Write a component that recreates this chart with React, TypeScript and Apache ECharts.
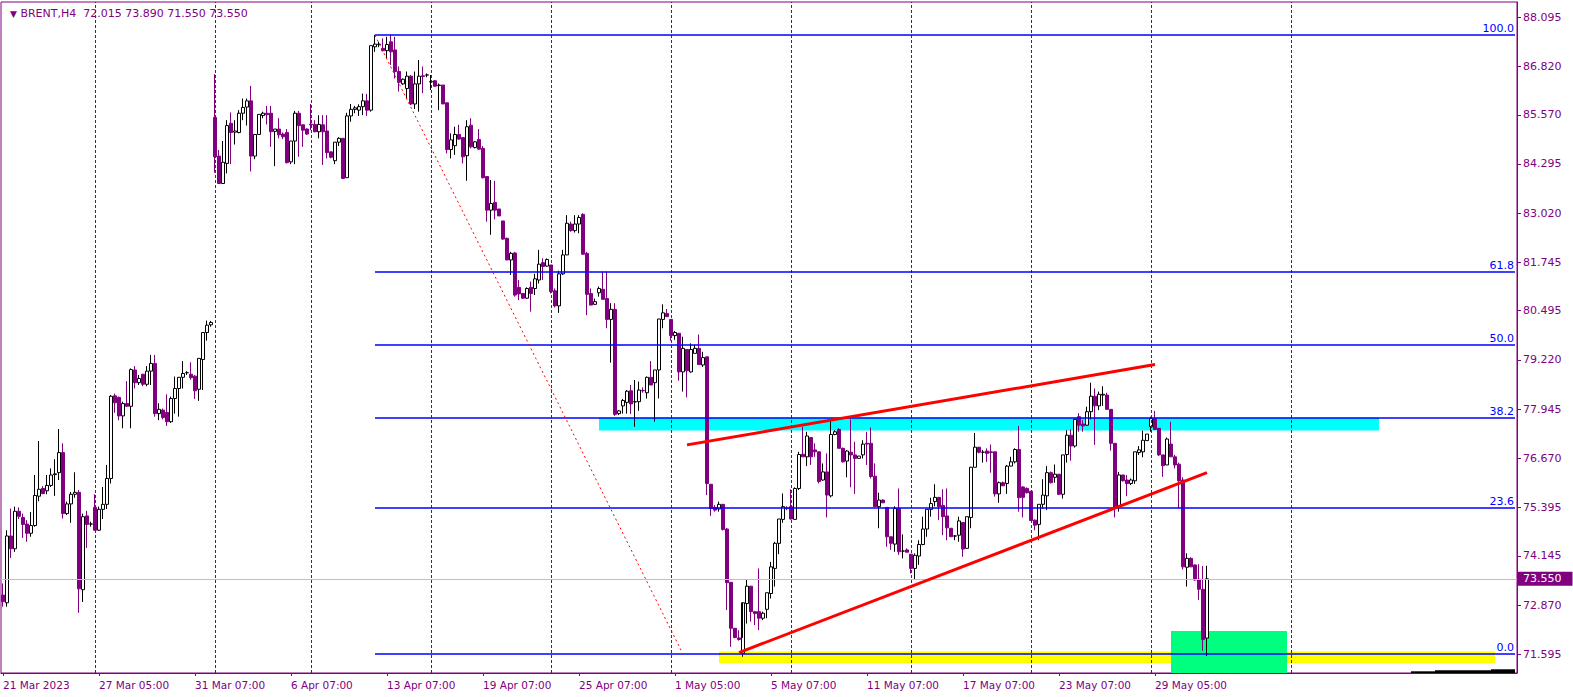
import React, { useEffect, useRef } from 'react';
import * as echarts from 'echarts';

// ---- OHLC data (H4 bars) ----
const open = [
  73.13, 72.93, 74.66, 74.33, 75.30, 75.14, 74.97, 74.73, 74.93, 75.69,
  75.89, 75.83, 75.97, 76.25, 76.30, 76.82, 75.24, 75.49, 75.74, 75.79,
  73.27, 75.18, 74.97, 75.40, 74.81, 75.35, 75.48, 76.15, 78.29, 78.25,
  77.77, 78.09, 78.02, 78.96, 78.63, 78.85, 78.59, 78.93, 79.13, 77.83,
  77.92, 77.86, 77.62, 78.22, 78.48, 78.77, 78.89, 78.85, 78.80, 78.46,
  79.23, 79.93, 80.13, 85.50, 84.50, 83.79, 84.31, 85.35, 85.12, 85.11,
  85.61, 85.77, 85.93, 84.50, 85.06, 85.55, 85.61, 85.61, 85.14, 85.20,
  85.07, 85.11, 84.35, 84.89, 85.61, 85.31, 85.20, 85.33, 85.32, 85.13,
  85.31, 85.15, 84.61, 84.38, 84.86, 84.96, 83.94, 85.54, 85.71, 85.69,
  85.78, 85.93, 85.69, 87.33, 87.39, 87.29, 87.23, 87.46, 87.25, 86.69,
  86.37, 86.25, 86.57, 85.85, 86.37, 86.58, 86.60, 86.42, 86.45, 86.33,
  86.34, 85.88, 84.67, 84.77, 85.06, 84.98, 84.51, 85.30, 84.72, 84.93,
  84.70, 83.97, 83.10, 83.30, 83.13, 82.82, 82.37, 81.81, 81.99, 81.10,
  80.94, 80.82, 81.10, 81.07, 81.29, 81.74, 81.65, 81.68, 81.01, 80.62,
  81.45, 81.94, 82.74, 82.57, 82.74, 82.99, 81.98, 80.94, 80.66, 80.96,
  81.05, 80.81, 80.27, 80.53, 77.83, 78.03, 78.12, 78.42, 78.13, 78.14,
  78.43, 78.37, 78.77, 78.63, 78.96, 80.27, 80.42, 80.27, 79.85, 79.91,
  78.91, 79.49, 78.91, 79.39, 79.52, 79.09, 79.30, 76.00, 75.40, 75.36,
  75.48, 74.84, 73.46, 72.27, 72.02, 71.62, 72.91, 73.36, 72.70, 72.70,
  72.53, 72.76, 73.17, 73.82, 74.47, 75.09, 75.38, 75.42, 75.09, 75.89,
  76.78, 76.71, 77.21, 76.89, 76.84, 76.11, 76.32, 75.70, 77.29, 77.42,
  76.93, 76.60, 76.83, 76.76, 76.67, 76.76, 77.06, 77.06, 76.21, 75.42,
  75.59, 75.40, 74.64, 74.45, 75.37, 74.27, 74.30, 74.19, 73.82, 74.14,
  74.44, 74.84, 75.35, 75.55, 75.66, 75.45, 75.18, 74.86, 74.66, 74.68,
  75.01, 74.34, 75.14, 76.44, 76.96, 76.83, 76.86, 76.84, 76.84, 75.75,
  76.04, 76.02, 76.47, 76.58, 76.90, 75.93, 75.89, 75.82, 75.07, 74.96,
  75.48, 75.70, 76.30, 76.18, 76.26, 75.74, 76.77, 77.27, 76.99, 77.75,
  77.56, 77.53, 77.88, 78.28, 78.03, 78.31, 78.31, 77.94, 77.06, 75.42,
  76.24, 76.11, 76.02, 76.09, 76.82, 76.84, 77.13, 77.49, 77.70, 77.45,
  76.76, 76.50, 77.04, 76.71, 76.52, 76.11, 73.85, 74.08, 73.91, 73.54,
  73.28, 72.015,
];
const high = [
  73.43, 74.81, 75.37, 75.42, 75.40, 75.24, 75.07, 75.28, 76.24, 77.12,
  75.95, 76.24, 76.41, 76.65, 77.43, 77.06, 75.55, 75.80, 76.31, 75.85,
  75.24, 75.31, 75.03, 75.74, 75.42, 75.93, 76.50, 78.31, 78.35, 78.27,
  78.14, 78.67, 79.00, 79.06, 78.83, 78.85, 79.06, 79.35, 79.35, 78.10,
  77.96, 78.33, 78.27, 78.79, 78.77, 79.19, 78.93, 79.16, 78.83, 79.26,
  79.93, 80.24, 80.23, 86.62, 84.66, 84.89, 85.43, 85.63, 85.43, 85.69,
  85.99, 85.99, 86.32, 85.06, 85.58, 85.65, 85.80, 85.80, 85.20, 85.48,
  85.11, 85.20, 84.89, 85.67, 85.67, 85.31, 85.22, 85.85, 85.43, 85.56,
  85.56, 85.56, 84.61, 84.86, 84.99, 84.96, 85.62, 85.85, 85.80, 85.84,
  86.12, 86.11, 87.36, 87.64, 87.46, 87.55, 87.59, 87.64, 87.59, 86.82,
  86.51, 86.69, 86.60, 86.69, 86.99, 86.82, 86.64, 86.60, 86.47, 86.38,
  86.34, 85.88, 85.09, 85.26, 85.31, 84.98, 85.43, 85.48, 84.89, 85.20,
  84.76, 83.97, 83.88, 83.86, 83.13, 82.82, 82.39, 82.02, 82.02, 81.29,
  80.94, 81.10, 81.25, 81.45, 82.07, 81.85, 81.85, 81.68, 81.07, 81.53,
  82.07, 82.97, 82.80, 82.97, 82.97, 83.02, 82.02, 81.07, 80.81, 81.12,
  81.51, 81.51, 80.69, 80.69, 77.92, 78.21, 78.44, 78.57, 78.70, 78.66,
  78.51, 78.79, 79.19, 78.96, 80.28, 80.66, 80.54, 80.27, 79.97, 79.91,
  79.82, 79.49, 79.65, 79.61, 79.88, 79.43, 79.30, 76.00, 75.46, 75.55,
  75.48, 74.87, 73.46, 72.27, 72.22, 72.02, 73.53, 73.36, 72.72, 73.82,
  72.70, 73.19, 73.99, 74.51, 75.10, 75.76, 75.43, 75.87, 75.92, 76.84,
  77.49, 77.36, 77.21, 77.06, 76.84, 76.54, 76.80, 77.65, 77.40, 77.45,
  76.95, 76.89, 77.68, 77.10, 76.73, 77.14, 77.36, 77.47, 76.54, 75.78,
  75.61, 75.40, 74.64, 75.43, 75.89, 74.70, 74.34, 74.19, 74.21, 74.55,
  75.16, 75.35, 75.65, 76.00, 75.66, 75.87, 75.89, 74.86, 74.68, 75.16,
  75.01, 75.16, 76.45, 77.33, 76.96, 76.89, 76.93, 77.03, 76.84, 76.07,
  76.07, 76.50, 76.71, 76.93, 77.51, 75.95, 75.92, 75.82, 75.09, 75.48,
  76.13, 76.47, 76.33, 76.51, 76.26, 76.76, 77.40, 77.42, 77.71, 77.84,
  77.66, 78.01, 78.63, 78.48, 78.40, 78.54, 78.37, 77.94, 77.06, 76.32,
  76.24, 76.24, 76.15, 76.84, 76.99, 77.39, 77.30, 77.75, 77.90, 77.45,
  76.76, 77.21, 77.62, 76.76, 76.56, 76.18, 74.21, 74.11, 73.92, 73.93,
  73.88, 73.89,
];
const low = [
  72.83, 72.83, 74.09, 74.25, 75.10, 74.61, 74.51, 74.64, 74.90, 75.56,
  75.74, 75.74, 75.93, 75.70, 76.11, 75.11, 75.20, 75.00, 75.65, 72.67,
  72.95, 74.35, 74.90, 74.80, 74.79, 75.10, 75.36, 76.02, 77.85, 77.66,
  77.45, 78.01, 77.45, 78.48, 78.57, 78.54, 78.54, 78.57, 77.75, 77.66,
  77.68, 77.51, 77.59, 77.83, 77.75, 78.48, 78.83, 78.71, 78.21, 78.16,
  78.44, 79.72, 80.08, 84.07, 83.79, 83.79, 84.05, 84.29, 84.80, 85.09,
  85.43, 85.29, 84.10, 84.42, 85.06, 85.48, 85.32, 84.74, 84.24, 84.96,
  84.94, 84.31, 84.29, 84.29, 84.48, 84.74, 85.05, 85.17, 85.12, 84.96,
  84.27, 84.44, 84.44, 84.29, 84.76, 83.92, 83.94, 85.39, 85.61, 85.54,
  85.56, 85.54, 85.65, 87.20, 87.32, 87.21, 87.03, 86.86, 86.51, 86.17,
  86.34, 85.99, 85.82, 85.72, 85.65, 86.13, 86.54, 86.21, 86.30, 85.69,
  85.85, 84.57, 84.44, 84.53, 84.92, 84.31, 83.86, 84.70, 84.70, 84.66,
  83.92, 82.80, 82.46, 82.86, 82.95, 82.33, 81.81, 81.42, 80.86, 80.77,
  80.80, 80.80, 80.47, 80.90, 81.20, 81.29, 81.64, 80.94, 80.58, 80.44,
  81.42, 81.94, 82.54, 82.52, 82.50, 81.94, 80.38, 80.64, 80.64, 80.86,
  80.79, 80.04, 79.15, 77.77, 77.79, 77.83, 77.83, 77.82, 77.49, 77.90,
  78.37, 78.22, 78.57, 77.62, 78.22, 80.04, 80.34, 79.72, 79.74, 78.68,
  78.40, 78.25, 78.89, 79.39, 79.10, 79.04, 75.72, 75.18, 75.29, 75.29,
  74.80, 72.74, 71.79, 72.01, 71.95, 71.53, 72.39, 72.44, 72.35, 72.22,
  72.48, 72.53, 73.04, 73.35, 74.19, 75.00, 75.33, 75.09, 75.09, 75.85,
  76.71, 76.47, 76.50, 76.71, 76.02, 76.09, 75.14, 75.66, 77.27, 76.93,
  76.56, 76.18, 75.92, 75.75, 76.67, 76.67, 76.50, 76.15, 75.42, 74.86,
  75.52, 74.38, 74.30, 74.25, 74.17, 74.08, 74.24, 73.69, 73.54, 73.91,
  74.42, 74.64, 75.16, 75.43, 75.07, 74.68, 74.55, 74.64, 74.55, 74.51,
  74.12, 74.34, 74.86, 76.44, 76.80, 76.56, 76.58, 76.30, 75.68, 75.52,
  75.95, 75.75, 76.47, 76.54, 75.29, 75.14, 75.76, 75.06, 74.81, 74.55,
  75.37, 75.33, 76.02, 76.04, 75.72, 75.63, 76.56, 76.61, 76.95, 77.36,
  77.36, 77.51, 77.68, 77.02, 77.92, 78.03, 77.94, 76.87, 75.14, 75.29,
  76.07, 75.69, 75.98, 76.01, 76.76, 76.70, 77.13, 77.36, 77.40, 76.73,
  76.19, 76.50, 76.71, 76.41, 75.37, 73.79, 73.35, 73.86, 73.50, 73.00,
  71.69, 71.55,
];
const close = [
  72.96, 74.66, 74.33, 75.30, 75.17, 74.96, 74.73, 74.93, 75.71, 75.87,
  75.76, 75.97, 76.24, 76.27, 76.82, 75.24, 75.49, 75.74, 75.79, 73.29,
  75.16, 74.96, 74.97, 74.81, 75.35, 75.48, 76.15, 78.28, 78.11, 77.77,
  78.09, 78.02, 78.97, 78.63, 78.74, 78.59, 78.93, 79.13, 77.83, 77.94,
  77.73, 77.62, 78.22, 78.48, 78.77, 78.87, 78.89, 78.76, 78.42, 79.26,
  79.93, 80.12, 80.19, 84.48, 83.79, 84.34, 85.29, 85.11, 85.15, 85.61,
  85.76, 85.93, 84.50, 85.06, 85.58, 85.61, 85.57, 85.13, 85.20, 85.05,
  85.00, 84.33, 84.89, 85.61, 85.29, 85.17, 85.07, 85.31, 85.13, 85.32,
  85.13, 84.59, 84.47, 84.86, 84.96, 83.92, 85.54, 85.71, 85.75, 85.78,
  85.93, 85.69, 87.36, 87.40, 87.40, 87.23, 87.39, 87.20, 86.69, 86.41,
  86.49, 86.57, 85.85, 86.37, 86.57, 86.56, 86.60, 86.43, 86.31, 86.34,
  85.85, 84.67, 84.92, 85.06, 84.94, 84.48, 85.26, 84.74, 84.87, 84.68,
  83.94, 83.10, 83.27, 83.10, 82.95, 82.35, 81.81, 81.98, 80.90, 80.93,
  80.82, 81.07, 80.94, 81.32, 81.70, 81.64, 81.82, 80.99, 80.62, 81.45,
  81.94, 82.76, 82.57, 82.74, 82.91, 81.96, 80.92, 80.64, 80.73, 81.07,
  80.79, 80.27, 80.53, 77.81, 77.90, 78.17, 78.41, 78.08, 78.14, 78.44,
  78.42, 78.77, 78.57, 78.96, 80.28, 80.44, 80.34, 79.85, 79.93, 78.91,
  79.52, 78.94, 79.49, 79.52, 79.10, 79.28, 76.02, 75.37, 75.33, 75.48,
  74.83, 73.45, 72.27, 72.03, 71.98, 72.93, 73.36, 72.70, 72.65, 72.53,
  72.66, 73.19, 73.86, 74.47, 75.10, 75.42, 75.37, 75.10, 75.89, 76.77,
  76.71, 77.25, 76.71, 76.84, 76.07, 76.32, 75.72, 77.29, 77.36, 76.93,
  76.58, 76.86, 76.76, 76.67, 76.73, 77.04, 77.04, 76.20, 75.42, 75.59,
  75.52, 74.64, 74.47, 75.37, 74.25, 74.27, 74.24, 73.82, 74.16, 74.44,
  74.84, 75.35, 75.50, 75.66, 75.42, 75.16, 74.87, 74.64, 74.66, 75.05,
  74.32, 75.16, 76.44, 76.96, 76.83, 76.83, 76.80, 76.82, 75.75, 76.04,
  75.96, 76.47, 76.58, 76.90, 75.65, 75.66, 75.78, 75.06, 74.94, 75.48,
  75.72, 76.30, 76.04, 76.26, 75.74, 76.76, 77.27, 76.99, 77.68, 77.53,
  77.51, 77.88, 78.28, 78.03, 78.33, 78.33, 77.94, 77.06, 75.40, 76.24,
  76.09, 76.02, 76.11, 76.84, 76.89, 77.14, 77.30, 77.70, 77.42, 76.76,
  76.48, 77.17, 76.71, 76.50, 76.09, 73.86, 74.08, 73.86, 73.52, 73.28,
  71.98, 73.55,
];

// ---- axes ----
const SLOTS = 379; // bar slots on the time scale (incl. empty right margin)
const xTickLabels = [
  '21 Mar 2023', '27 Mar 05:00', '31 Mar 07:00', '6 Apr 07:00', '13 Apr 07:00',
  '19 Apr 07:00', '25 Apr 07:00', '1 May 05:00', '5 May 07:00', '11 May 07:00',
  '17 May 07:00', '23 May 07:00', '29 May 05:00',
];
const X_LABEL_STEP = 24;
const yTickValues = [
  71.595, 72.87, 74.145, 75.395, 76.67, 77.945, 79.22, 80.495, 81.745, 83.02,
  84.295, 85.57, 86.82, 88.095,
];
const Y_MIN = 71.111;
const Y_MAX = 88.491;

// ---- objects on the chart ----
const weekSeparators = [23, 53, 77, 107, 137, 167, 197, 227, 257, 287, 322];
const fibStartBar = 93;
const fibEndBar = 378;
const fibHigh = 87.63;
const fibLow = 71.6;
const fibLevels = [100, 61.8, 50, 38.2, 23.6, 0];
const bidPrice = 73.55;
const fibTrendLine = [[93, 87.63], [170, 71.6]];
const upperRedLine = [[171, 77.02], [288, 79.1]];
const lowerRedLine = [[184, 71.64], [301, 76.3]];
const cyanZone = [[149, 77.72], [344, 77.39]];
const yellowZone = [[179, 71.67], [373, 71.37]];
const greenZone = [[292, 72.2], [321, Y_MIN]];
const bottomSteps = [
  [[352, 71.155], [358, Y_MIN]],
  [[358, 71.181], [372, Y_MIN]],
  [[372, 71.207], [378, Y_MIN]],
];

const PURPLE = '#800080';
const FONT = 'DejaVu Sans';

export default function App() {
  const ref = useRef<HTMLDivElement>(null);

  useEffect(() => {
    if (!ref.current) return;
    const chart = echarts.init(ref.current, null, { renderer: 'svg' });
    const cats = Array.from({ length: SLOTS }, (_, i) => String(i));
    const candles = open.map((o, i) => [o, close[i], low[i], high[i]]);
    const last = open.length - 1;
    const titleText = `BRENT,H4  ${open[last].toFixed(3)} ${high[last].toFixed(3)} ${low[last].toFixed(3)} ${close[last].toFixed(3)}`;
    const showX = (i: number) => i % X_LABEL_STEP === 0 && i / X_LABEL_STEP < xTickLabels.length;

    const fibData = fibLevels.map((lv) => {
      const price = fibLow + ((fibHigh - fibLow) * lv) / 100;
      return [
        {
          coord: [fibStartBar, price],
          label: { formatter: lv.toFixed(1) },
        },
        { coord: [fibEndBar, price] },
      ];
    });

    const option: any = {
      animation: false,
      backgroundColor: '#ffffff',
      title: {
        text: `{t|▼} ${titleText}`,
        left: 5,
        top: 3,
        textStyle: {
          fontFamily: FONT,
          fontSize: 11,
          fontWeight: 'normal',
          color: PURPLE,
          rich: { t: { fontSize: 9, color: PURPLE, fontFamily: FONT } },
        },
      },
      grid: {
        left: 1,
        right: 56,
        top: 2,
        bottom: 24,
        show: true,
        borderColor: PURPLE,
        borderWidth: 1,
        backgroundColor: 'transparent',
      },
      xAxis: {
        type: 'category',
        data: cats,
        boundaryGap: true,
        axisLine: { show: true, lineStyle: { color: PURPLE } },
        axisTick: {
          show: true,
          interval: (i: number) => showX(i),
          alignWithLabel: true,
          length: 3,
          lineStyle: { color: PURPLE },
        },
        axisLabel: {
          interval: (i: number) => showX(i),
          formatter: (_v: string, i: number) => xTickLabels[i / X_LABEL_STEP] || '',
          align: 'left',
          color: PURPLE,
          fontFamily: FONT,
          fontSize: 10.5,
          margin: 6,
          hideOverlap: false,
        },
        splitLine: { show: false },
      },
      yAxis: {
        type: 'value',
        position: 'right',
        min: Y_MIN,
        max: Y_MAX,
        axisLine: { show: true, lineStyle: { color: PURPLE } },
        axisTick: {
          show: true,
          customValues: yTickValues,
          length: 4,
          lineStyle: { color: PURPLE },
        },
        axisLabel: {
          customValues: yTickValues,
          formatter: (v: number) => v.toFixed(3),
          color: PURPLE,
          fontFamily: FONT,
          fontSize: 11,
          margin: 6,
        },
        splitLine: { show: false },
      },
      series: [
        {
          type: 'line',
          data: [],
          z: 1,
          silent: true,
          markArea: {
            silent: true,
            data: [
              [{ coord: cyanZone[0], itemStyle: { color: '#00ffff', opacity: 1 } }, { coord: cyanZone[1] }],
              [{ coord: yellowZone[0], itemStyle: { color: '#ffff00', opacity: 1 } }, { coord: yellowZone[1] }],
              [{ coord: greenZone[0], itemStyle: { color: '#00ff7f', opacity: 1 } }, { coord: greenZone[1] }],
              ...bottomSteps.map((s) => [
                { coord: s[0], itemStyle: { color: '#000000', opacity: 1 } },
                { coord: s[1] },
              ]),
            ],
          },
          markLine: {
            silent: true,
            symbol: ['none', 'none'],
            animation: false,
            data: [
              ...weekSeparators.map((b) => ({
                xAxis: b,
                lineStyle: { color: PURPLE, type: [3, 2], width: 1 },
                label: { show: false },
              })),
              {
                yAxis: bidPrice,
                lineStyle: { color: '#c0c0c0', type: 'solid', width: 1 },
                label: {
                  show: true,
                  position: 'end',
                  distance: 0,
                  formatter: bidPrice.toFixed(3),
                  color: '#ffffff',
                  backgroundColor: PURPLE,
                  fontFamily: FONT,
                  fontSize: 11,
                  padding: [2, 11, 1, 6],
                },
              },
            ],
          },
        },
        {
          type: 'candlestick',
          data: candles,
          barWidth: 3,
          z: 3,
          itemStyle: {
            color: '#ffffff',
            color0: PURPLE,
            borderColor: '#000000',
            borderColor0: PURPLE,
            borderWidth: 1,
          },
        },
        {
          type: 'line',
          data: [],
          z: 5,
          silent: true,
          markLine: {
            silent: true,
            symbol: ['none', 'none'],
            animation: false,
            data: [
              ...fibData.map((pair) => [
                {
                  ...pair[0],
                  lineStyle: { color: '#0000ff', width: 1.5, type: 'solid' },
                  label: {
                    ...(pair[0] as any).label,
                    show: true,
                    position: 'insideEndTop',
                    distance: [1, 1],
                    color: '#0000ff',
                    fontFamily: FONT,
                    fontSize: 11,
                  },
                },
                pair[1],
              ]),
              [
                {
                  coord: fibTrendLine[0],
                  lineStyle: { color: '#ff0000', width: 1, type: [2, 3] },
                  label: { show: false },
                },
                { coord: fibTrendLine[1] },
              ],
              [
                {
                  coord: upperRedLine[0],
                  lineStyle: { color: '#ff0000', width: 3, type: 'solid' },
                  label: { show: false },
                },
                { coord: upperRedLine[1] },
              ],
              [
                {
                  coord: lowerRedLine[0],
                  lineStyle: { color: '#ff0000', width: 3, type: 'solid' },
                  label: { show: false },
                },
                { coord: lowerRedLine[1] },
              ],
            ],
          },
        },
      ],
    };

    chart.setOption(option);
    return () => {
      chart.dispose();
    };
  }, []);

  return (
    <div
      ref={ref}
      style={{ position: 'fixed', left: 0, top: 0, width: 1573, height: 697, background: '#ffffff' }}
    />
  );
}
